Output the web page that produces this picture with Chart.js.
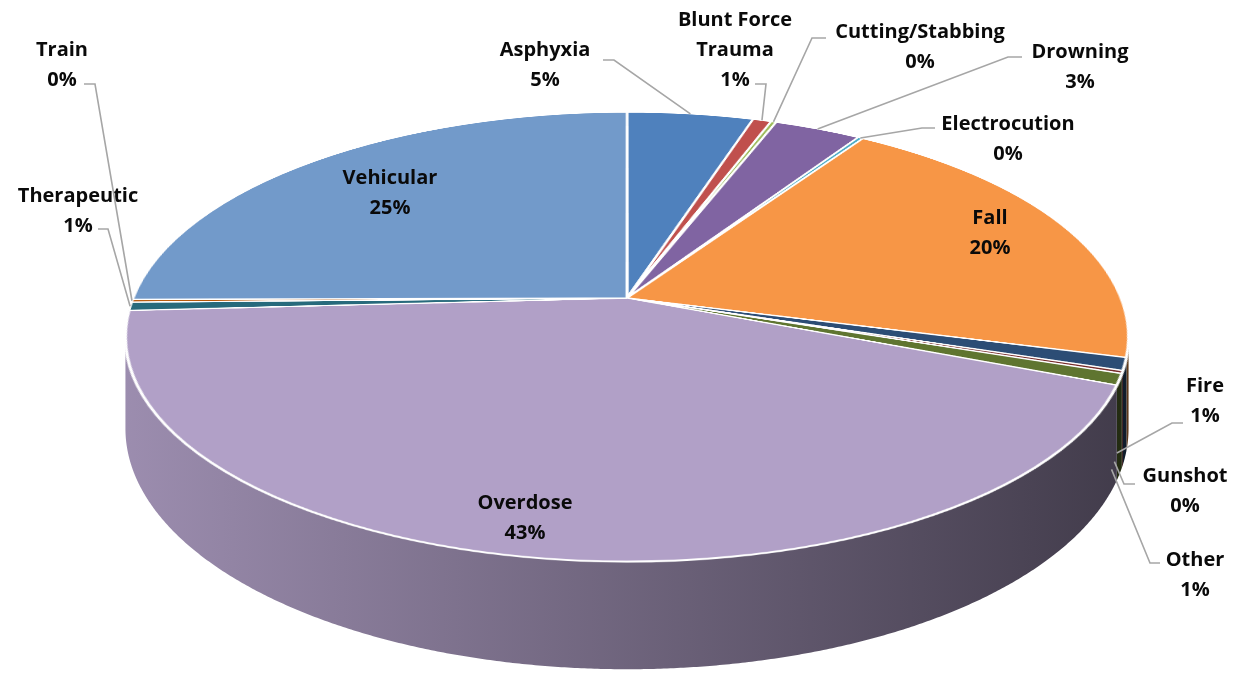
<!DOCTYPE html>
<html>
<head>
<meta charset="utf-8">
<script src="https://cdn.jsdelivr.net/npm/chart.js@4.4.1/dist/chart.umd.min.js"></script>
<style>
  html, body { margin: 0; padding: 0; background: #fff; }
</style>
</head>
<body>
<canvas id="causas" width="1244" height="673"></canvas>
<script>
// Causes of death, share of cases (%)
const categories = ['Asphyxia', 'Blunt Force Trauma', 'Cutting/Stabbing', 'Drowning', 'Electrocution', 'Fall',
  'Fire', 'Gunshot', 'Other', 'Overdose', 'Therapeutic', 'Train', 'Vehicular'];
const shares = [4.8, 0.7, 0.2, 3.3, 0.2, 20.0, 0.9, 0.2, 0.8, 43.0, 0.6, 0.2, 25.1];
const sliceColors = ['#4F81BD', '#C0504D', '#9BBB59', '#8064A2', '#4BACC6', '#F79646',
  '#2C4D75', '#772C2A', '#5F7530', '#B1A0C7', '#276A7C', '#B65708', '#729ACA'];

// perspective of the tilted disc (screen px)
const view = { cx: 627, apexY: 298, A: 494, B: 218, k: 0.173, depth: 89 };

// where each label sits (centre of first line) and the bend of its leader line
const labelLayout = [
  { x: 545, y: 50, lead: [[603, 60], [614, 60]] },
  { x: 735, y: 20, lead: [[755, 84], [766, 84]] },
  { x: 920, y: 32, lead: [[826, 38], [812, 38]] },
  { x: 1080, y: 52, lead: [[1022, 57], [1008, 57]] },
  { x: 1008, y: 124, lead: [[935, 128], [922, 128]] },
  { x: 990, y: 218 },
  { x: 1205, y: 386, lead: [[1183, 423], [1172, 423]], side: true },
  { x: 1185, y: 476, lead: [[1135, 484], [1124, 484]], side: true },
  { x: 1195, y: 560, lead: [[1160, 563], [1150, 563]], side: true },
  { x: 525, y: 503 },
  { x: 78, y: 196, lead: [[98, 229], [108, 229]] },
  { x: 62, y: 50, lead: [[84, 84], [95, 84]] },
  { x: 390, y: 178 }
];

function project(ang, r) {
  const u = r * Math.cos(ang), v = r * Math.sin(ang);
  const w = 1 - view.k * v;
  return [view.cx + view.A * u / w, view.apexY + view.B * v / w, w];
}

function shade(hex, f) {
  const n = parseInt(hex.slice(1), 16);
  const r = Math.round(((n >> 16) & 255) * f), g = Math.round(((n >> 8) & 255) * f), b = Math.round((n & 255) * f);
  return 'rgb(' + r + ',' + g + ',' + b + ')';
}

function labelLines(name) {
  const words = name.split(' ');
  if (words.length > 1) return [words.slice(0, -1).join(' '), words[words.length - 1]];
  return [name];
}

const pie3d = {
  id: 'pie3d',
  beforeDatasetsDraw(chart) {
    const ctx = chart.ctx;
    const arcs = chart.getDatasetMeta(0).data;
    const R = arcs[0].outerRadius, ox = arcs[0].x, oy = arcs[0].y;

    // side wall of the front half
    const edge = Math.asin(view.k);
    arcs.forEach((arc, i) => {
      const a0 = Math.max(arc.startAngle, edge), a1 = Math.min(arc.endAngle, Math.PI - edge);
      if (a1 <= a0) return;
      const steps = Math.max(2, Math.ceil((a1 - a0) * 180));
      ctx.beginPath();
      for (let s = 0; s <= steps; s++) {
        const p = project(a0 + (a1 - a0) * s / steps, 1);
        if (s === 0) ctx.moveTo(p[0], p[1]); else ctx.lineTo(p[0], p[1]);
      }
      for (let s = steps; s >= 0; s--) {
        const p = project(a0 + (a1 - a0) * s / steps, 1);
        ctx.lineTo(p[0], p[1] + view.depth / p[2]);
      }
      ctx.closePath();
      const grad = ctx.createLinearGradient(view.cx - 505, 0, view.cx + 505, 0);
      grad.addColorStop(0, shade(sliceColors[i], 0.88));
      grad.addColorStop(1, shade(sliceColors[i], 0.37));
      ctx.fillStyle = grad;
      ctx.fill();
    });

    // top face: draw the chart's arcs flat into a buffer, then warp it row by row
    const N = 1000, c = 500, h = 480;
    const buf = document.createElement('canvas');
    buf.width = N; buf.height = N;
    const bctx = buf.getContext('2d');
    bctx.setTransform(h / R, 0, 0, h / R, c - ox * h / R, c - oy * h / R);
    arcs.forEach(a => a.draw(bctx));

    const rowV = Y => { const d = Y - view.apexY; return d / (view.B + view.k * d); };
    const top = Math.floor(view.apexY - view.B / (1 + view.k)) - 2;
    const bot = Math.ceil(view.apexY + view.B / (1 - view.k)) + 2;
    for (let Y = top; Y < bot; Y++) {
      const v0 = Math.max(-1.02, rowV(Y)), v1 = Math.min(1.02, rowV(Y + 1));
      if (v1 <= v0) continue;
      const s = view.A / (1 - view.k * rowV(Y + 0.5));
      const span = s * c / h;
      ctx.drawImage(buf, 0, c + h * v0, N, h * (v1 - v0), view.cx - span, Y, 2 * span, 1);
    }
    return false;
  },
  afterDraw(chart) {
    const ctx = chart.ctx;
    const arcs = chart.getDatasetMeta(0).data;
    const total = shares.reduce((a, b) => a + b, 0);
    ctx.save();
    ctx.font = 'bold 20px "Open Sans"';
    ctx.textAlign = 'center';
    ctx.textBaseline = 'middle';
    ctx.strokeStyle = '#a6a6a6';
    ctx.lineWidth = 1.6;
    ctx.fillStyle = '#0a0a0a';
    categories.forEach((name, i) => {
      const L = labelLayout[i];
      if (L.lead) {
        const arc = arcs[i];
        const p = project((arc.startAngle + arc.endAngle) / 2, 1);
        const end = L.side ? [p[0] - 8, p[1] + view.depth * 0.95 / p[2]] : p;
        ctx.beginPath();
        ctx.moveTo(L.lead[0][0], L.lead[0][1]);
        ctx.lineTo(L.lead[1][0], L.lead[1][1]);
        ctx.lineTo(end[0], end[1]);
        ctx.stroke();
      }
      const lines = labelLines(name).concat([Math.round(shares[i] / total * 100) + '%']);
      lines.forEach((t, j) => ctx.fillText(t, L.x, L.y + j * 30));
    });
    ctx.restore();
  }
};

const causasCtx = document.getElementById('causas').getContext('2d');
const causasChart = new Chart(causasCtx, {
  type: 'pie',
  data: {
    labels: categories,
    datasets: [{
      data: shares,
      backgroundColor: sliceColors,
      borderColor: '#ffffff',
      borderWidth: 2
    }]
  },
  options: {
    responsive: false,
    animation: false,
    events: [],
    plugins: {
      legend: { display: false },
      tooltip: { enabled: false }
    }
  },
  plugins: [pie3d]
});
</script>
</body>
</html>
